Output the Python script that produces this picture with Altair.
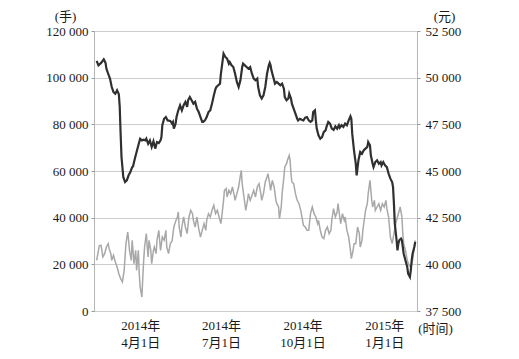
import altair as alt
import pandas as pd

# dark line: price, right axis (元)
price_dates = [
    "2014-02-11","2014-02-13","2014-02-16","2014-02-19","2014-02-21","2014-02-22","2014-02-24","2014-02-26","2014-02-28",
    "2014-03-02","2014-03-04","2014-03-06","2014-03-08","2014-03-09","2014-03-10","2014-03-11","2014-03-13","2014-03-15",
    "2014-03-17","2014-03-19","2014-03-21","2014-03-23","2014-03-24","2014-03-26","2014-03-28","2014-03-30",
    "2014-04-01","2014-04-03","2014-04-05","2014-04-07","2014-04-08","2014-04-10","2014-04-12","2014-04-14","2014-04-16",
    "2014-04-18","2014-04-20","2014-04-22","2014-04-24","2014-04-25","2014-04-26","2014-04-28","2014-04-30",
    "2014-05-02","2014-05-05","2014-05-07","2014-05-08","2014-05-09","2014-05-11","2014-05-12","2014-05-14","2014-05-16",
    "2014-05-18","2014-05-20","2014-05-22","2014-05-24","2014-05-25","2014-05-27","2014-05-29","2014-05-31",
    "2014-06-02","2014-06-04","2014-06-06","2014-06-08","2014-06-10","2014-06-11","2014-06-13","2014-06-15","2014-06-17",
    "2014-06-19","2014-06-21","2014-06-23","2014-06-25","2014-06-26","2014-06-28","2014-06-30",
    "2014-07-01","2014-07-03","2014-07-04","2014-07-06","2014-07-08","2014-07-10","2014-07-11","2014-07-13","2014-07-15",
    "2014-07-17","2014-07-19","2014-07-21","2014-07-23","2014-07-25","2014-07-26","2014-07-28","2014-07-30",
    "2014-08-01","2014-08-03","2014-08-05","2014-08-07","2014-08-09","2014-08-11","2014-08-12","2014-08-14","2014-08-16",
    "2014-08-18","2014-08-20","2014-08-22","2014-08-24","2014-08-25","2014-08-26","2014-08-27","2014-08-29","2014-08-31",
    "2014-09-02","2014-09-04","2014-09-06","2014-09-08","2014-09-10","2014-09-11","2014-09-13","2014-09-15","2014-09-16",
    "2014-09-18","2014-09-19","2014-09-21","2014-09-23","2014-09-25","2014-09-26","2014-09-28","2014-09-30",
    "2014-10-02","2014-10-04","2014-10-06","2014-10-08","2014-10-10","2014-10-12","2014-10-13","2014-10-15","2014-10-16",
    "2014-10-17","2014-10-19","2014-10-21","2014-10-23","2014-10-25","2014-10-27","2014-10-28","2014-10-30",
    "2014-11-01","2014-11-03","2014-11-05","2014-11-07","2014-11-09","2014-11-11","2014-11-12","2014-11-14","2014-11-16",
    "2014-11-18","2014-11-20","2014-11-22","2014-11-24","2014-11-25","2014-11-26","2014-11-28","2014-11-30",
    "2014-12-01","2014-12-03","2014-12-05","2014-12-07","2014-12-09","2014-12-11","2014-12-13","2014-12-14","2014-12-16",
    "2014-12-17","2014-12-19","2014-12-20","2014-12-22","2014-12-24","2014-12-26","2014-12-28","2014-12-29","2014-12-31",
    "2015-01-02","2015-01-04","2015-01-06","2015-01-08","2015-01-10","2015-01-11","2015-01-12","2015-01-13","2015-01-15",
    "2015-01-16","2015-01-17","2015-01-18","2015-01-20","2015-01-21","2015-01-23","2015-01-25","2015-01-27","2015-01-28",
    "2015-01-30","2015-01-31","2015-02-01","2015-02-02","2015-02-04","2015-02-05",
]
price_values = [
    50900,50660,50790,50980,50790,50480,50210,49950,49500,
    49230,49140,49320,49110,48430,47000,45750,44680,44410,
    44500,44770,44950,45210,45250,45660,46020,46380,
    46730,46640,46680,46640,46730,46460,46640,46290,46590,
    46200,46550,46500,46640,46820,47450,47800,47890,
    47710,47680,47540,47620,47270,47540,47890,48250,48520,
    48250,48520,48700,48430,48790,48960,48790,48610,
    48700,48340,48160,47890,47630,47630,47710,47890,48160,
    48250,48610,49050,49410,49500,49590,49680,
    50210,50930,51290,51110,51020,50750,50840,50660,50570,
    50210,49770,49500,49860,50570,50750,50660,50570,
    50480,50570,50210,49950,49860,49950,49500,49050,48880,
    49050,49500,50210,50660,50790,50660,50390,50040,49680,
    49770,49680,49590,49680,49410,48960,48790,48880,49140,
    48880,48610,48340,48070,47800,47710,47800,47750,
    47710,47860,47890,47710,47630,47710,48160,48250,47710,
    47270,46910,46730,46820,47090,47180,47360,47630,
    47540,47270,47200,47390,47270,47450,47320,47450,47360,
    47540,47450,47710,47930,47800,47000,46110,45390,
    44770,45570,46020,45930,46110,46200,46290,46550,46380,
    45840,45390,45210,45480,45570,45390,45480,45300,45480,
    45300,45210,44860,44590,44410,44140,43250,42180,41290,
    40750,41110,41290,41380,41290,40570,40210,39860,39500,
    39320,39680,40210,40570,40930,41200,
]

# grey line: volume, left axis (手)
volume_dates = [
    "2014-02-11","2014-02-14","2014-02-16","2014-02-18","2014-02-20","2014-02-22","2014-02-24","2014-02-25","2014-02-27",
    "2014-02-28","2014-03-02","2014-03-04","2014-03-06","2014-03-08","2014-03-10","2014-03-12","2014-03-14","2014-03-15",
    "2014-03-16","2014-03-18","2014-03-19","2014-03-20","2014-03-22","2014-03-23","2014-03-24","2014-03-25","2014-03-27",
    "2014-03-28","2014-03-30","2014-03-31","2014-04-01","2014-04-03","2014-04-04","2014-04-05","2014-04-06","2014-04-08",
    "2014-04-09","2014-04-10","2014-04-11","2014-04-13","2014-04-14","2014-04-16","2014-04-17","2014-04-19","2014-04-20",
    "2014-04-22","2014-04-24","2014-04-26","2014-04-28","2014-04-30","2014-05-01","2014-05-03","2014-05-05","2014-05-07",
    "2014-05-09","2014-05-11","2014-05-13","2014-05-14","2014-05-15","2014-05-17","2014-05-18","2014-05-20","2014-05-22",
    "2014-05-24","2014-05-26","2014-05-28","2014-05-30","2014-05-31","2014-06-02","2014-06-04","2014-06-06","2014-06-08",
    "2014-06-10","2014-06-12","2014-06-14","2014-06-15","2014-06-17","2014-06-19","2014-06-21","2014-06-23","2014-06-25",
    "2014-06-27","2014-06-29","2014-07-01","2014-07-02","2014-07-04","2014-07-05","2014-07-07","2014-07-08","2014-07-10",
    "2014-07-12","2014-07-14","2014-07-16","2014-07-17","2014-07-19","2014-07-21","2014-07-23","2014-07-24","2014-07-25",
    "2014-07-27","2014-07-29","2014-07-31","2014-08-01","2014-08-03","2014-08-05","2014-08-07","2014-08-09","2014-08-11",
    "2014-08-13","2014-08-15","2014-08-16","2014-08-18","2014-08-20","2014-08-22","2014-08-23","2014-08-25","2014-08-26",
    "2014-08-28","2014-08-30","2014-09-01","2014-09-02","2014-09-04","2014-09-05","2014-09-07","2014-09-08","2014-09-10",
    "2014-09-11","2014-09-13","2014-09-14","2014-09-16","2014-09-17","2014-09-18","2014-09-19","2014-09-21","2014-09-23",
    "2014-09-25","2014-09-27","2014-09-29","2014-10-01","2014-10-02","2014-10-04","2014-10-06","2014-10-08","2014-10-10",
    "2014-10-12","2014-10-14","2014-10-16","2014-10-18","2014-10-19","2014-10-21","2014-10-23","2014-10-25","2014-10-27",
    "2014-10-29","2014-10-31","2014-11-02","2014-11-03","2014-11-05","2014-11-07","2014-11-09","2014-11-10","2014-11-12",
    "2014-11-13","2014-11-15","2014-11-17","2014-11-18","2014-11-20","2014-11-22","2014-11-24","2014-11-25","2014-11-27",
    "2014-11-28","2014-11-30","2014-12-02","2014-12-04","2014-12-05","2014-12-07","2014-12-08","2014-12-10","2014-12-11",
    "2014-12-13","2014-12-14","2014-12-16","2014-12-17","2014-12-18","2014-12-19","2014-12-21","2014-12-22","2014-12-24",
    "2014-12-26","2014-12-28","2014-12-30","2015-01-01","2015-01-03","2015-01-04","2015-01-06","2015-01-07","2015-01-08",
    "2015-01-10","2015-01-12","2015-01-14","2015-01-16","2015-01-18","2015-01-19","2015-01-21","2015-01-22","2015-01-23",
    "2015-01-25","2015-01-27","2015-01-29","2015-01-31","2015-02-02","2015-02-04","2015-02-05",
]
volume_values = [
    21700,28000,28140,23140,24570,27430,28860,26710,24570,
    21710,23860,21000,18860,16000,13860,12430,17430,23140,
    28860,33860,30290,26000,21710,30290,26000,20290,26000,
    17430,26000,16000,10290,6000,14570,21710,27430,33140,
    27430,23140,30290,26000,20290,26000,27430,24570,30290,
    34570,26000,31710,30290,34570,27430,24570,28860,30000,
    36000,38500,40290,42430,36000,31710,36000,40290,36000,
    33140,40290,43140,41710,38860,36000,40290,35290,31710,
    34570,37430,34570,38860,41710,40290,43140,45290,41710,
    43140,40290,37430,40290,47430,51710,52430,48860,51710,
    50290,53140,49570,47430,50290,53140,58140,60290,54570,
    48860,43140,47430,50290,47430,49500,51710,48860,53140,
    54570,50290,47430,50290,55290,57430,58860,54570,51710,
    56000,53140,47430,46000,44570,39570,44570,50290,57430,
    61710,63140,64570,66710,64570,58860,55290,54570,50290,
    47430,46000,43140,38860,36710,36000,34570,34570,41710,
    44570,41710,40290,37430,38860,34570,31710,31000,34570,
    36000,33140,34570,39000,43860,40290,42430,46000,40290,
    37430,41710,38860,40290,34570,31710,26000,22430,26000,
    28860,28860,36000,33140,27430,30290,34570,40290,43140,
    46000,50290,56000,51710,47430,44570,47430,43140,44570,
    46000,43140,46000,44570,47430,43860,40290,36000,31710,
    28860,33140,37430,40290,43140,44570,40290,33140,28860,
    26000,21710,19570,18860,21710,27430,30290,
]

# axes
left_ticks = [0, 20000, 40000, 60000, 80000, 100000, 120000]
right_ticks = [37500, 40000, 42500, 45000, 47500, 50000, 52500]
x_ticks = [
    alt.DateTime(year=2014, month=4, date=1),
    alt.DateTime(year=2014, month=7, date=1),
    alt.DateTime(year=2014, month=10, date=1),
    alt.DateTime(year=2015, month=1, date=1),
]

price_df = pd.DataFrame({"date": pd.to_datetime(price_dates), "value": price_values})
volume_df = pd.DataFrame({"date": pd.to_datetime(volume_dates), "value": volume_values})

FONT = "'Liberation Serif', 'Times New Roman', 'Noto Sans CJK SC', serif"

x_enc = alt.X(
    "date:T",
    scale=alt.Scale(domain=[alt.DateTime(year=2014, month=2, date=8),
                            alt.DateTime(year=2015, month=2, date=7)]),
    axis=alt.Axis(
        values=x_ticks,
        labelExpr="split(timeFormat(datum.value, '%Y年|%-m月%-d日'), '|')",
        labelLineHeight=17,
        labelPadding=8,
        ticks=False,
        grid=False,
        domain=False,
        title="(时间)",
        titleX=341,
        titleY=17,
        titleAlign="center",
        titleBaseline="middle",
        titleFontWeight="normal",
    ),
)

volume_line = alt.Chart(volume_df).mark_line(color="#a8a8a8", strokeWidth=1.5).encode(
    x=x_enc,
    y=alt.Y(
        "value:Q",
        scale=alt.Scale(domain=[0, 120000], nice=False),
        axis=alt.Axis(
            orient="left",
            values=left_ticks,
            labelExpr="replace(format(datum.value, ','), ',', ' ')",
            grid=True,
            domain=False,
            tickSize=3,
            labelPadding=3,
            title="(手)",
            titleAngle=0,
            titleX=-29,
            titleY=-15,
            titleAlign="center",
            titleBaseline="middle",
            titleFontWeight="normal",
        ),
    ),
)

price_line = alt.Chart(price_df).mark_line(color="#303030", strokeWidth=2.2).encode(
    x=x_enc,
    y=alt.Y(
        "value:Q",
        scale=alt.Scale(domain=[37500, 52500], nice=False, zero=False),
        axis=alt.Axis(
            orient="right",
            values=right_ticks,
            labelExpr="replace(format(datum.value, ','), ',', ' ')",
            grid=False,
            domain=False,
            tickSize=3,
            labelPadding=5,
            title="(元)",
            titleAngle=0,
            titleX=27,
            titleY=-15,
            titleAlign="center",
            titleBaseline="middle",
            titleFontWeight="normal",
        ),
    ),
)

chart = (
    alt.layer(volume_line, price_line)
    .resolve_scale(y="independent")
    .properties(
        width=323,
        height=280,
        autosize=alt.AutoSizeParams(type="none"),
        padding={"left": 86, "top": 23, "right": 90, "bottom": 38},
        background="white",
    )
    .configure_view(stroke="#b5b5b5", strokeWidth=1)
    .configure_axis(
        labelFont=FONT,
        titleFont=FONT,
        labelFontSize=13,
        titleFontSize=13,
        labelColor="#1a1a1a",
        titleColor="#1a1a1a",
        gridColor="#cccccc",
        gridWidth=1,
        tickColor="#999999",
    )
)

chart.save("out.html", embed_options={"renderer": "svg", "actions": False})
